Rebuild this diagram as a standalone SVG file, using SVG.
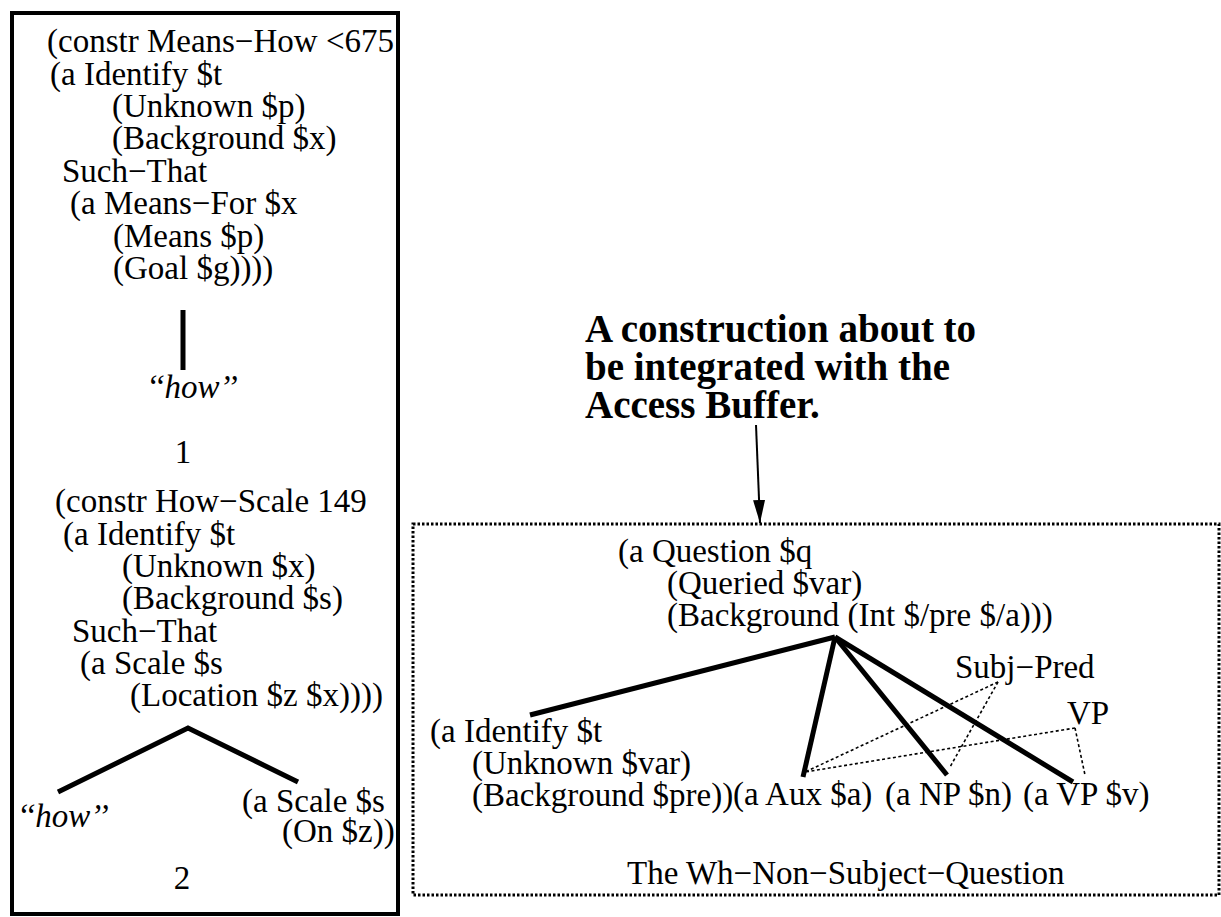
<svg xmlns="http://www.w3.org/2000/svg" width="1221" height="917" viewBox="0 0 1221 917">
<style>
  text { font-family: "Liberation Serif", "Times New Roman", serif; font-size: 33px; fill: #000; }
  .it { font-style: italic; }
  .hd { font-weight: bold; font-size: 39px; }
  .mid { text-anchor: middle; }
  .thick { stroke: #000; stroke-width: 5; fill: none; stroke-linecap: butt; }
  .dot { stroke: #000; stroke-width: 1.6; fill: none; stroke-dasharray: 3 2.5; }
  .frame { stroke: #000; stroke-width: 4; fill: none; }
  .dotframe { stroke: #000; stroke-width: 3; fill: none; stroke-dasharray: 2.5 2; }
  .arrow { stroke: #000; stroke-width: 2; fill: none; }
</style>
<defs>
  <marker id="ah" markerWidth="24" markerHeight="12" refX="23" refY="6" orient="auto" markerUnits="userSpaceOnUse" viewBox="0 0 24 12">
    <path d="M0,0 L23,6 L0,12 Z" fill="#000"/>
  </marker>
</defs>
<rect width="1221" height="917" fill="#fff"/>

<g id="left-panel">
  <rect class="frame" x="12" y="13" width="386" height="901"/>
</g>

<g id="node-means-how">
  <text x="47" y="52">(constr Means−How &lt;675</text>
  <text x="50" y="84.5">(a Identify $t</text>
  <text x="112" y="117">(Unknown $p)</text>
  <text x="112" y="149">(Background $x)</text>
  <text x="62" y="181.5">Such−That</text>
  <text x="70" y="214">(a Means−For $x</text>
  <text x="113" y="246.5">(Means $p)</text>
  <text x="113" y="279">(Goal $g))))</text>
</g>
<g id="node-how-1">
  <text class="it mid" x="192" y="398">‘‘how’’</text>
</g>
<g id="label-1">
  <text class="mid" x="183" y="463">1</text>
</g>

<g id="node-how-scale">
  <text x="55" y="512">(constr How−Scale 149</text>
  <text x="63" y="544.5">(a Identify $t</text>
  <text x="122" y="577">(Unknown $x)</text>
  <text x="122" y="609">(Background $s)</text>
  <text x="72" y="641.5">Such−That</text>
  <text x="80" y="674">(a Scale $s</text>
  <text x="130" y="706">(Location $z $x))))</text>
</g>
<g id="node-how-2">
  <text class="it" x="17" y="827">‘‘how’’</text>
</g>
<g id="node-scale-on">
  <text x="242" y="812">(a Scale $s</text>
  <text x="282" y="842">(On $z))</text>
</g>
<g id="label-2">
  <text class="mid" x="182" y="889">2</text>
</g>

<g id="heading">
  <text class="hd" x="585" y="342">A construction about to</text>
  <text class="hd" x="585" y="380">be integrated with the</text>
  <text class="hd" x="585" y="418">Access Buffer.</text>
</g>

<g id="access-buffer">
  <rect class="dotframe" x="413" y="524" width="806" height="371"/>
</g>

<g id="node-question">
  <text x="618" y="562">(a Question $q</text>
  <text x="667" y="594">(Queried $var)</text>
  <text x="667" y="626">(Background (Int $/pre $/a)))</text>
</g>
<g id="node-identify">
  <text x="430" y="742">(a Identify $t</text>
  <text x="472" y="774">(Unknown $var)</text>
  <text x="472" y="806">(Background $pre))</text>
</g>
<g id="node-aux"><text x="733" y="805">(a Aux $a)</text></g>
<g id="node-np"><text x="885" y="805">(a NP $n)</text></g>
<g id="node-vp"><text x="1023" y="805">(a VP $v)</text></g>
<g id="node-subj-pred"><text x="955" y="678">Subj−Pred</text></g>
<g id="node-vp-label"><text x="1067" y="724">VP</text></g>
<g id="caption"><text x="627" y="884">The Wh−Non−Subject−Question</text></g>

<g id="connectors">
  <line class="thick" x1="183" y1="310" x2="183" y2="370"/>
  <polyline class="thick" points="58,792 188,728 298,782" stroke-linejoin="miter"/>
  <line class="thick" x1="835" y1="637" x2="530" y2="715"/>
  <line class="thick" x1="835" y1="637" x2="803" y2="777"/>
  <line class="thick" x1="835" y1="637" x2="947" y2="775"/>
  <line class="thick" x1="835" y1="637" x2="1073" y2="782"/>
  <line class="dot" x1="998" y1="682" x2="805" y2="772"/>
  <line class="dot" x1="998" y1="682" x2="950" y2="767"/>
  <line class="dot" x1="1075" y1="728" x2="805" y2="772"/>
  <line class="dot" x1="1075" y1="728" x2="1085" y2="775"/>
  <line class="arrow" x1="756" y1="425" x2="760" y2="523" marker-end="url(#ah)"/>
</g>
</svg>
